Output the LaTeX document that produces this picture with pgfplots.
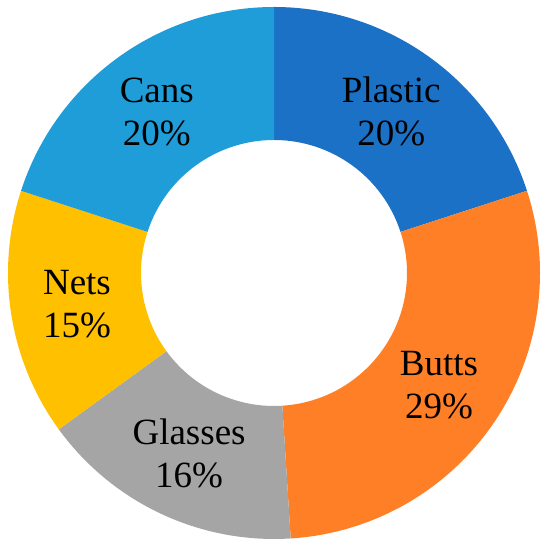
\documentclass[border=0pt]{standalone}
\usepackage{pgfplots}
\usepackage{pgfplotstable}
\pgfplotsset{compat=1.18}
\usepackage{fontspec}
\setmainfont{Liberation Serif}
\definecolor{c0}{HTML}{1A71C6}
\definecolor{c1}{HTML}{FF7F27}
\definecolor{c2}{HTML}{A5A5A5}
\definecolor{c3}{HTML}{FFC000}
\definecolor{c4}{HTML}{1E9DD8}
\pgfplotstableread{
name value
Plastic 20
Butts 29
Glasses 16
Nets 15
Cans 20
}\slices
\begin{document}
\begin{tikzpicture}
\begin{axis}[hide axis, scale only axis, x=266pt, y=266pt,
  xmin=-1.0301, xmax=1.0301, ymin=-1.0414, ymax=1.0263, clip=false]
\pgfplotsextra{%
  \gdef\start{90}%
  \foreach \i in {0,...,4}{%
    \pgfplotstablegetelem{\i}{value}\of\slices
    \let\v\pgfplotsretval
    \pgfplotstablegetelem{\i}{name}\of\slices
    \let\nm\pgfplotsretval
    \pgfmathsetmacro\en{\start-3.6*\v}%
    \pgfmathsetmacro\mid{(\start+\en)/2}%
    \fill[c\i] (axis cs:{cos(\start)},{sin(\start)}) arc[start angle=\start, end angle=\en, radius=266pt]
      -- (axis cs:{0.5*cos(\en)},{0.5*sin(\en)}) arc[start angle=\en, end angle=\start, radius=133pt] -- cycle;
    \node[align=center, font=\fontsize{37}{43}\selectfont] at (axis cs:{0.75*cos(\mid)},{0.75*sin(\mid)}) {\nm\\\v\%};
    \xdef\start{\en}%
  }%
}
\end{axis}
\pgfresetboundingbox
\path (current axis.south west) rectangle (current axis.north east);
\end{tikzpicture}
\end{document}
